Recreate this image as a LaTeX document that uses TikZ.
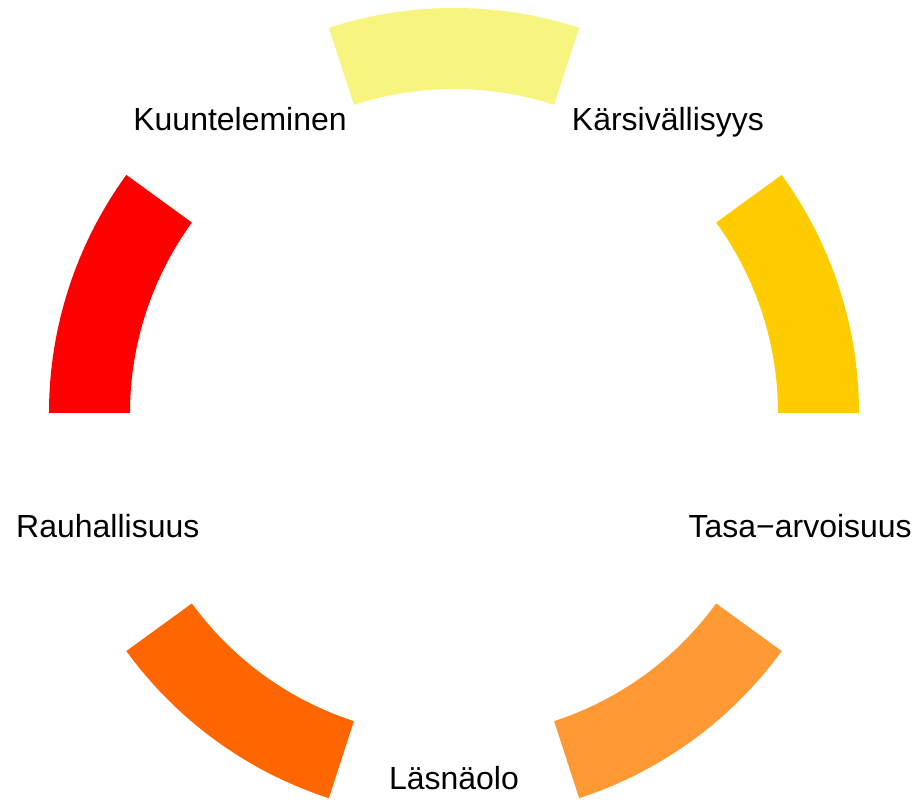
\documentclass[tikz,border=0pt]{standalone}
\usepackage{fontspec}
\setmainfont{Liberation Sans}
\usetikzlibrary{positioning}
\definecolor{paleyellow}{HTML}{F7F580}
\definecolor{gold}{HTML}{FFCC00}
\definecolor{lightorange}{HTML}{FF9933}
\definecolor{darkorange}{HTML}{FF6600}
\definecolor{brightred}{HTML}{FF0000}
\tikzset{ringpart/.style={fill=#1, draw=none},
	word/.style={font=\fontsize{9.1}{11}\selectfont, inner sep=0pt, text height=1.6ex, text depth=0.3ex}}
\begin{document}
\begin{tikzpicture}
			\useasboundingbox (-4.54,-3.87) rectangle (4.66,4.13);
			\foreach \a/\c in {90/paleyellow, 18/gold, -54/lightorange, -126/darkorange, 162/brightred}
				\fill[ringpart=\c] (\a-18:4.05) arc (\a-18:\a+18:4.05) -- (\a+18:3.24) arc (\a+18:\a-18:3.24) -- cycle;
			\node[word] (kuunt) at (126:3.64) {Kuunteleminen};
			\node[word] (karsi) at (54:3.64) {Kärsivällisyys};
			\node[word] (tasa) at (-18:3.64) {Tasa−arvoisuus};
			\node[word] (lasna) at (-90:3.64) {Läsnäolo};
			\node[word] (rauha) at (-162:3.64) {Rauhallisuus};
			\end{tikzpicture}
\end{document}
